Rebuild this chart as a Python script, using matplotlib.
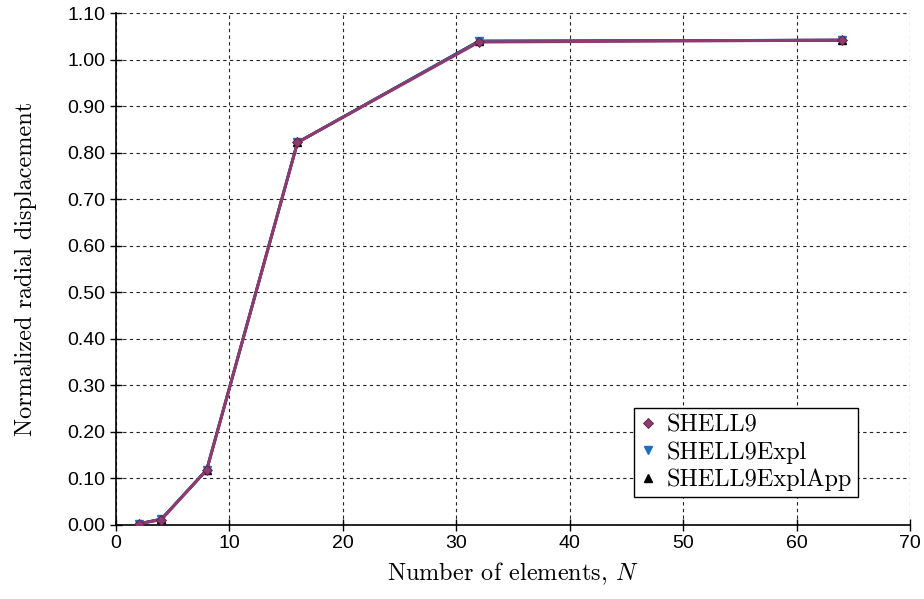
import matplotlib
matplotlib.use("Agg")
import matplotlib.pyplot as plt

# Convergence of normalized radial displacement vs mesh size
n_elements = [2, 4, 8, 16, 32, 64]
shell9 = [0.002, 0.011, 0.118, 0.822, 1.038, 1.042]
shell9_expl = [0.002, 0.012, 0.118, 0.822, 1.040, 1.042]
shell9_explapp = [0.002, 0.012, 0.118, 0.822, 1.040, 1.042]

y_ticks = [i / 10 for i in range(12)]
x_ticks = list(range(0, 80, 10))

plt.rcParams["mathtext.fontset"] = "cm"
serif = "cmr10"

fig = plt.figure(figsize=(9.24, 5.99), dpi=100)
ax = fig.add_axes([0.1255, 0.124, 0.8595, 0.854])

ax.plot(n_elements, shell9_explapp, color="black", lw=2.0, marker="^",
        ms=6, label="SHELL9ExplApp", zorder=3)
ax.plot(n_elements, shell9_expl, color="#1f6fc0", lw=2.0, marker="v",
        ms=6, label="SHELL9Expl", zorder=4)
ax.plot(n_elements, shell9, color="#8e3a6e", lw=2.2, marker="D",
        ms=5, mec="#5a2040", mew=0.6, label="SHELL9", zorder=5)

ax.set_xlim(0, 70)
ax.set_ylim(0, 1.10)
ax.set_xticks(x_ticks)
ax.set_yticks(y_ticks)
ax.set_yticklabels([f"{v:.2f}" for v in y_ticks])
ax.tick_params(direction="inout", length=8, width=1, labelsize=14)
for lab in ax.get_xticklabels() + ax.get_yticklabels():
    lab.set_fontfamily("Liberation Sans")

ax.grid(True, color="#222222", linestyle=(0, (3, 3)), linewidth=0.8)
ax.spines["top"].set_visible(False)
ax.spines["right"].set_visible(False)
ax.spines["left"].set_linewidth(1.2)
ax.spines["bottom"].set_linewidth(1.2)

ax.set_xlabel(r"Number of elements, $N$", family=serif, fontsize=17.5,
              labelpad=6)
ax.set_ylabel("Normalized radial displacement", family=serif, fontsize=17.5,
              labelpad=22)

handles, labels = ax.get_legend_handles_labels()
order = [2, 1, 0]
leg = ax.legend([handles[i] for i in order], [labels[i] for i in order],
                loc="lower right", bbox_to_anchor=(0.95, 0.03),
                prop={"family": serif, "size": 17.5}, frameon=True,
                fancybox=False, edgecolor="black", framealpha=1,
                handlelength=0.6, handletextpad=0.5, borderpad=0.25,
                labelspacing=0.2)
for h in leg.legend_handles:
    h.set_linestyle("none")
leg.get_frame().set_linewidth(1.0)

fig.savefig("out.png", dpi=100)
